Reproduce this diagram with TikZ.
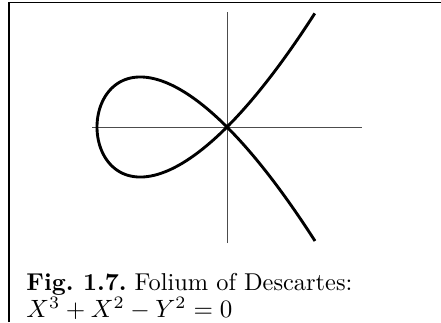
\documentclass[tikz,border=0pt]{standalone}
\usetikzlibrary{positioning}

\begin{document}
\begin{tikzpicture}[
  x=0.4pt, y=-0.4pt,
  frameline/.style = {line width=0.7pt},
  axis/.style      = {line width=0.4pt, black!70},
  curve/.style     = {line width=1.15pt, line join=round},
]
  \useasboundingbox (0,0) rectangle (441,322);

  % frame, cut off at the right and at the bottom
  \draw[frameline] (8.7,322) -- (8.7,2.6) -- (441,2.6);

  % axes
  \coordinate (O)    at (227,127);
  \coordinate (xmin) at (92,127);
  \coordinate (xmax) at (362,127);
  \coordinate (ymax) at (227,12);
  \coordinate (ymin) at (227,243);
  \draw[axis] (xmin) -- (xmax);
  \draw[axis] (ymin) -- (ymax);

  % X^3 + X^2 - Y^2 = 0, with X = t^2-1, Y = t(t^2-1)
  \begin{scope}[shift={(O)}, x=52pt, y=52pt]
    \draw[curve] plot[domain=-1.295:1.295, samples=120, smooth]
      ({\x*\x-1}, {\x*(\x*\x-1)});
  \end{scope}

  \node[anchor=base west, inner sep=0pt, align=left,
        font=\fontsize{9.75}{11}\selectfont\frenchspacing] (caption) at (26,317.5)
    {\textbf{Fig. 1.7.} Folium of Descartes:\\ $X^3+X^2-Y^2=0$};
\end{tikzpicture}
\end{document}
